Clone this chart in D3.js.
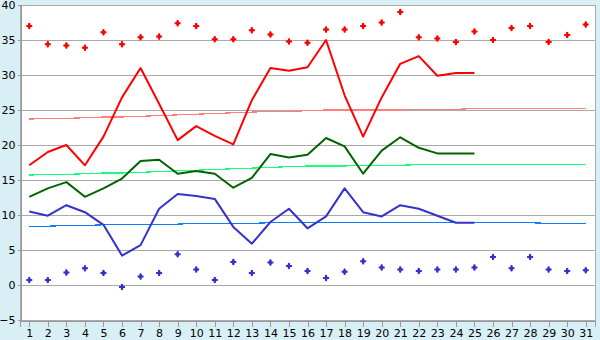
<!DOCTYPE html>
<html>
  <head>
    <meta charset="utf-8">
    <title>Daily temperatures</title>
    <script src="https://d3js.org/d3.v7.min.js"></script>
    <style>
      body { margin: 0; background: #d9eff6; }
      svg text { font-family: "DejaVu Sans", Verdana, sans-serif; font-size: 11px; fill: #000; }
    </style>
  </head>
  <body>
    <svg width="600" height="340"></svg>

    <script>
      // days of the month
      var days = d3.range(1, 32);
      var yTicks = [-5, 0, 5, 10, 15, 20, 25, 30, 35, 40];

      // record highs / lows (points)
      var recordMax = [37.0, 34.4, 34.2, 33.9, 36.1, 34.4, 35.4, 35.5, 37.4, 37.0,
                       35.1, 35.1, 36.4, 35.8, 34.8, 34.6, 36.5, 36.5, 37.0, 37.5,
                       39.0, 35.4, 35.2, 34.7, 36.2, 35.0, 36.7, 37.0, 34.7, 35.7, 37.2];
      var recordMin = [0.7, 0.7, 1.8, 2.4, 1.7, -0.3, 1.2, 1.7, 4.4, 2.2,
                       0.7, 3.3, 1.7, 3.2, 2.7, 2.0, 1.0, 1.9, 3.4, 2.5,
                       2.2, 2.0, 2.2, 2.2, 2.5, 4.0, 2.4, 4.0, 2.2, 2.0, 2.1];

      // this month's values (days 1..25)
      var tMax = [17.1, 19.0, 20.0, 17.1, 21.2, 26.8, 31.0, 25.9, 20.7, 22.7,
                  21.3, 20.1, 26.4, 31.0, 30.6, 31.1, 35.0, 27.1, 21.2, 26.8,
                  31.6, 32.7, 29.9, 30.3, 30.3];
      var tAvg = [12.6, 13.8, 14.7, 12.6, 13.8, 15.2, 17.7, 17.9, 15.9, 16.3,
                  15.9, 13.9, 15.3, 18.7, 18.2, 18.6, 21.0, 19.8, 15.9, 19.2,
                  21.1, 19.6, 18.8, 18.8, 18.8];
      var tMin = [10.5, 9.9, 11.4, 10.4, 8.6, 4.2, 5.7, 10.9, 13.0, 12.7,
                  12.3, 8.3, 5.9, 9.0, 10.9, 8.1, 9.8, 13.8, 10.4, 9.8,
                  11.4, 10.9, 9.9, 8.9, 8.9];

      // normals
      var normMax = [23.7, 23.8, 23.8, 23.9, 24.0, 24.0, 24.1, 24.2, 24.3, 24.4,
                     24.5, 24.6, 24.7, 24.8, 24.8, 24.9, 25.0, 25.0, 25.0, 25.0,
                     25.0, 25.1, 25.1, 25.1, 25.2, 25.2, 25.2, 25.2, 25.2, 25.2, 25.2];
      var normAvg = [15.7, 15.8, 15.8, 15.9, 16.0, 16.0, 16.1, 16.2, 16.3, 16.4,
                     16.5, 16.6, 16.7, 16.8, 16.9, 17.0, 17.0, 17.0, 17.1, 17.1,
                     17.1, 17.2, 17.2, 17.2, 17.2, 17.2, 17.2, 17.2, 17.2, 17.2, 17.2];
      var normMin = [8.4, 8.4, 8.5, 8.5, 8.6, 8.6, 8.7, 8.7, 8.7, 8.8,
                     8.8, 8.8, 8.8, 8.9, 8.9, 8.9, 8.9, 8.9, 8.9, 8.9,
                     8.9, 8.9, 8.9, 8.9, 8.9, 8.9, 8.9, 8.9, 8.8, 8.8, 8.8];

      var svg = d3.select("svg");
      var mLeft = 20, mRight = 595, mTop = 5, mBottom = 320;

      var x = d3.scalePoint().domain(days).range([mLeft, mRight]).padding(0.5);
      var y = d3.scaleLinear().domain([-5, 40]).range([mBottom, mTop]);

      // plot background
      svg.append("rect")
        .attr("x", mLeft + 0.5).attr("y", mTop + 0.5)
        .attr("width", mRight - mLeft).attr("height", mBottom - mTop)
        .attr("fill", "#fff")
        .attr("stroke", "#aaa");

      // grid lines
      svg.append("g")
        .selectAll("line")
        .data(yTicks)
        .enter().append("line")
        .attr("x1", mLeft).attr("x2", mRight)
        .attr("y1", function(d) { return Math.round(y(d)) + 0.5; })
        .attr("y2", function(d) { return Math.round(y(d)) + 0.5; })
        .attr("stroke", "#aaa");

      // axes
      var yAxis = d3.axisLeft(y).tickValues(yTicks).tickSize(3).tickPadding(2)
        .tickFormat(function(d) { return d < 0 ? "\u22125" : d; });
      var gy = svg.append("g")
        .attr("transform", "translate(" + (mLeft + 0.5) + ",0)")
        .call(yAxis);
      gy.selectAll("text").style("font-size", "11px").style("font-family", "DejaVu Sans");

      var xAxis = d3.axisBottom(x).tickSize(6).tickPadding(3);
      var gx = svg.append("g")
        .attr("transform", "translate(0," + (mBottom + 0.5) + ")")
        .call(xAxis);
      gx.selectAll("text").style("font-size", "11px").style("font-family", "DejaVu Sans");

      svg.selectAll(".domain, .tick line")
        .attr("stroke", "#999")
        .attr("shape-rendering", "crispEdges");

      // normal lines (thin)
      var line = d3.line()
        .x(function(d, i) { return x(days[i]); })
        .y(function(d) { return y(d); });

      [[normMax, "#ff7f7f"], [normAvg, "#19ff7f"], [normMin, "#0a7fff"]].forEach(function(s) {
        svg.append("path")
          .datum(s[0])
          .attr("d", line)
          .attr("fill", "none")
          .attr("stroke", s[1])
          .attr("stroke-width", 1.2)
          .attr("shape-rendering", "crispEdges");
      });

      // this month's lines
      [[tMax, "#ff0000"], [tAvg, "#006400"], [tMin, "#3333cc"]].forEach(function(s) {
        svg.append("path")
          .datum(s[0])
          .attr("d", line)
          .attr("fill", "none")
          .attr("stroke", s[1])
          .attr("stroke-width", 2)
          .attr("stroke-linejoin", "round");
      });

      // record points: small cross with a diamond centre
      var cross = d3.symbol().type(d3.symbolCross).size(20);
      var diamond = d3.symbol().type(d3.symbolDiamond).size(14);
      [[recordMax, "#ff0000"], [recordMin, "#3333cc"]].forEach(function(s) {
        var g = svg.append("g");
        [cross, diamond].forEach(function(sym) {
          g.append("g")
            .selectAll("path")
            .data(s[0])
            .enter().append("path")
            .attr("d", sym)
            .attr("transform", function(d, i) { return "translate(" + x(days[i]) + "," + y(d) + ")"; })
            .attr("fill", s[1]);
        });
      });
    </script>
  </body>
</html>
